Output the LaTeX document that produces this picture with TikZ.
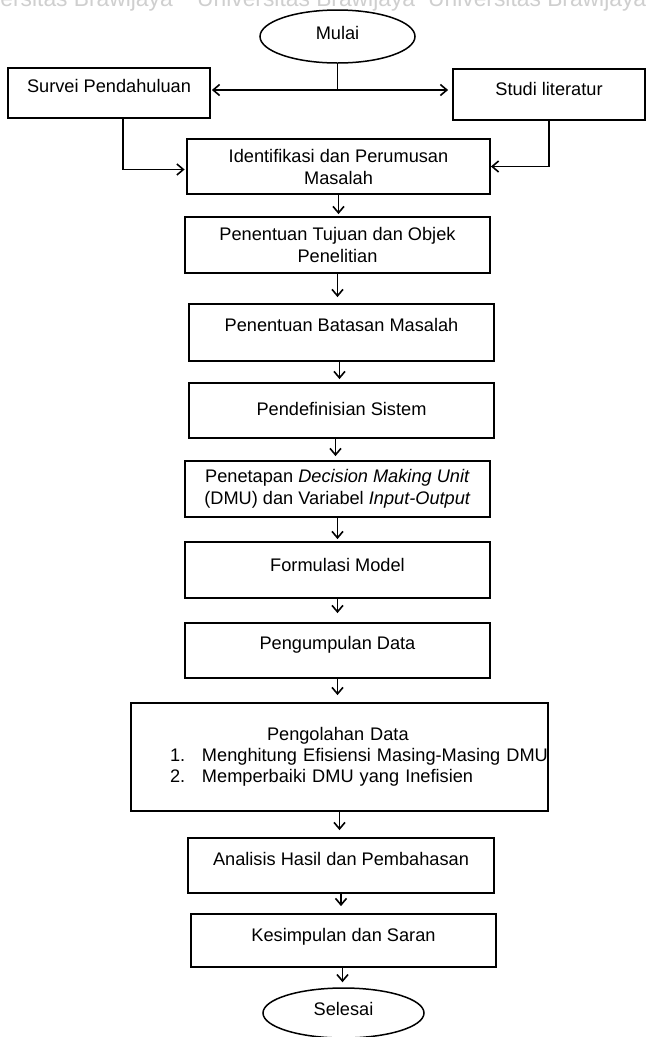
\documentclass[tikz,border=0pt]{standalone}
\usepackage{fontspec}
\setmainfont{Liberation Sans}
\usetikzlibrary{arrows.meta,shapes.geometric}
\newcommand\flowfont{\fontsize{18.2}{22}\selectfont}
\tikzset{
  x=1pt, y=-1pt,
  box/.style={draw, rectangle, line width=1.8pt, inner sep=0pt, font=\flowfont, align=center},
  boxt/.style={box, text height=13pt, text depth=#1},
  oval/.style={draw, ellipse, line width=1.5pt, inner sep=0pt, font=\flowfont, text height=13pt, text depth=#1},
  conn/.style={line width=1.6pt},
  arr/.style={conn, -{Straight Barb[length=6.5pt,width=11pt]}},
  wm/.style={inner sep=0pt, text=gray!38, font=\fontsize{22.8}{26}\selectfont}
}
\begin{document}
\begin{tikzpicture}
\useasboundingbox (0,0) rectangle (648,1037);
\fill[white] (0,0) rectangle (648,1037);
\clip (0,0) rectangle (648,1037);

% watermark
\node[wm, anchor=base east] (wm1) at (173,6) {Universitas Brawijaya};
\node[wm, anchor=base west] (wm2) at (197,6) {Universitas Brawijaya};
\node[wm, anchor=base west] (wm3) at (428,6) {Universitas Brawijaya};

% start / end
\node[oval=7pt, minimum width=155pt, minimum height=53pt] (mulai) at (337.5,36.5) {Mulai};
\node[oval=8pt, minimum width=161pt, minimum height=50pt] (selesai) at (343.5,1013) {Selesai};

% boxes
\node[boxt=14pt, minimum width=202pt, minimum height=50pt] (survei) at (109,93) {Survei Pendahuluan};
\node[boxt=11pt, minimum width=192pt, minimum height=51pt] (studi) at (549,94.5) {Studi literatur};
\node[box, minimum width=303pt, minimum height=55pt] (ident) at (338.5,166.5) {Identifikasi dan Perumusan\\Masalah};
\node[box, minimum width=305pt, minimum height=56pt] (tujuan) at (337.5,245) {Penentuan Tujuan dan Objek\\Penelitian};
\node[boxt=15pt, minimum width=305pt, minimum height=57pt] (batasan) at (341.5,332.5) {Penentuan Batasan Masalah};
\node[boxt=3pt, minimum width=305pt, minimum height=55pt] (sistem) at (341.5,410.5) {Pendefinisian Sistem};
\node[box, minimum width=305pt, minimum height=56pt] (dmu) at (337.5,489) {Penetapan \textit{Decision Making Unit}\\(DMU) dan Variabel \textit{Input-Output}};
\node[boxt=10pt, minimum width=305pt, minimum height=56pt] (formulasi) at (337.5,570) {Formulasi Model};
\node[boxt=15pt, minimum width=305pt, minimum height=55pt] (kumpul) at (337.5,650.5) {Pengumpulan Data};
\node[box, text width=417pt, minimum height=108pt, align=left, font=\fontsize{18.2}{21}\selectfont] (olah) at (339.5,757)
  {\hspace*{136pt}Pengolahan Data\\
   \hspace*{39pt}\makebox[32pt][l]{1.}Menghitung Efisiensi Masing-Masing DMU\\
   \hspace*{39pt}\makebox[32pt][l]{2.}Memperbaiki DMU yang Inefisien};
\node[boxt=13pt, minimum width=306pt, minimum height=55pt] (analisis) at (341,865.5) {Analisis Hasil dan Pembahasan};
\node[boxt=11pt, minimum width=305pt, minimum height=53pt] (simpul) at (343.5,940.5) {Kesimpulan dan Saran};

% top connectors
\coordinate (j) at (337.5,90);
\draw[conn] (mulai.south) -- (j);
\draw[arr, shorten >=1pt] (j) -- (j -| survei.east);
\draw[arr, shorten >=4pt] (j) -- (j -| studi.west);
\draw[arr, shorten >=1.5pt] ([xshift=14pt]survei.south) |- ([yshift=-3pt]ident.west);
\draw[arr] (studi.south) |- (ident.east);

% vertical flow
\draw[arr, shorten >=2pt] (ident.south) -- (ident.south |- tujuan.north);
\draw[arr, shorten >=6pt] (tujuan.south) -- (tujuan.south |- batasan.north);
\draw[arr, shorten >=3pt] ([xshift=-2pt]batasan.south) -- ([xshift=-2pt]batasan.south |- sistem.north);
\draw[arr, shorten >=4pt] ([xshift=-6pt]sistem.south) -- ([xshift=-6pt]sistem.south |- dmu.north);
\draw[arr, shorten >=2pt] (dmu.south) -- (dmu.south |- formulasi.north);
\draw[arr, shorten >=9pt] (formulasi.south) -- (formulasi.south |- kumpul.north);
\draw[arr, shorten >=7pt] (kumpul.south) -- (kumpul.south |- olah.north);
\draw[arr, shorten >=7pt] (olah.south) -- (olah.south |- analisis.north);
\draw[arr, shorten >=7pt] (analisis.south) -- (analisis.south |- simpul.north);
\draw[arr, shorten >=5pt] ([xshift=-1pt]simpul.south) -- ([xshift=-1pt]simpul.south |- selesai.north);
\end{tikzpicture}
\end{document}
